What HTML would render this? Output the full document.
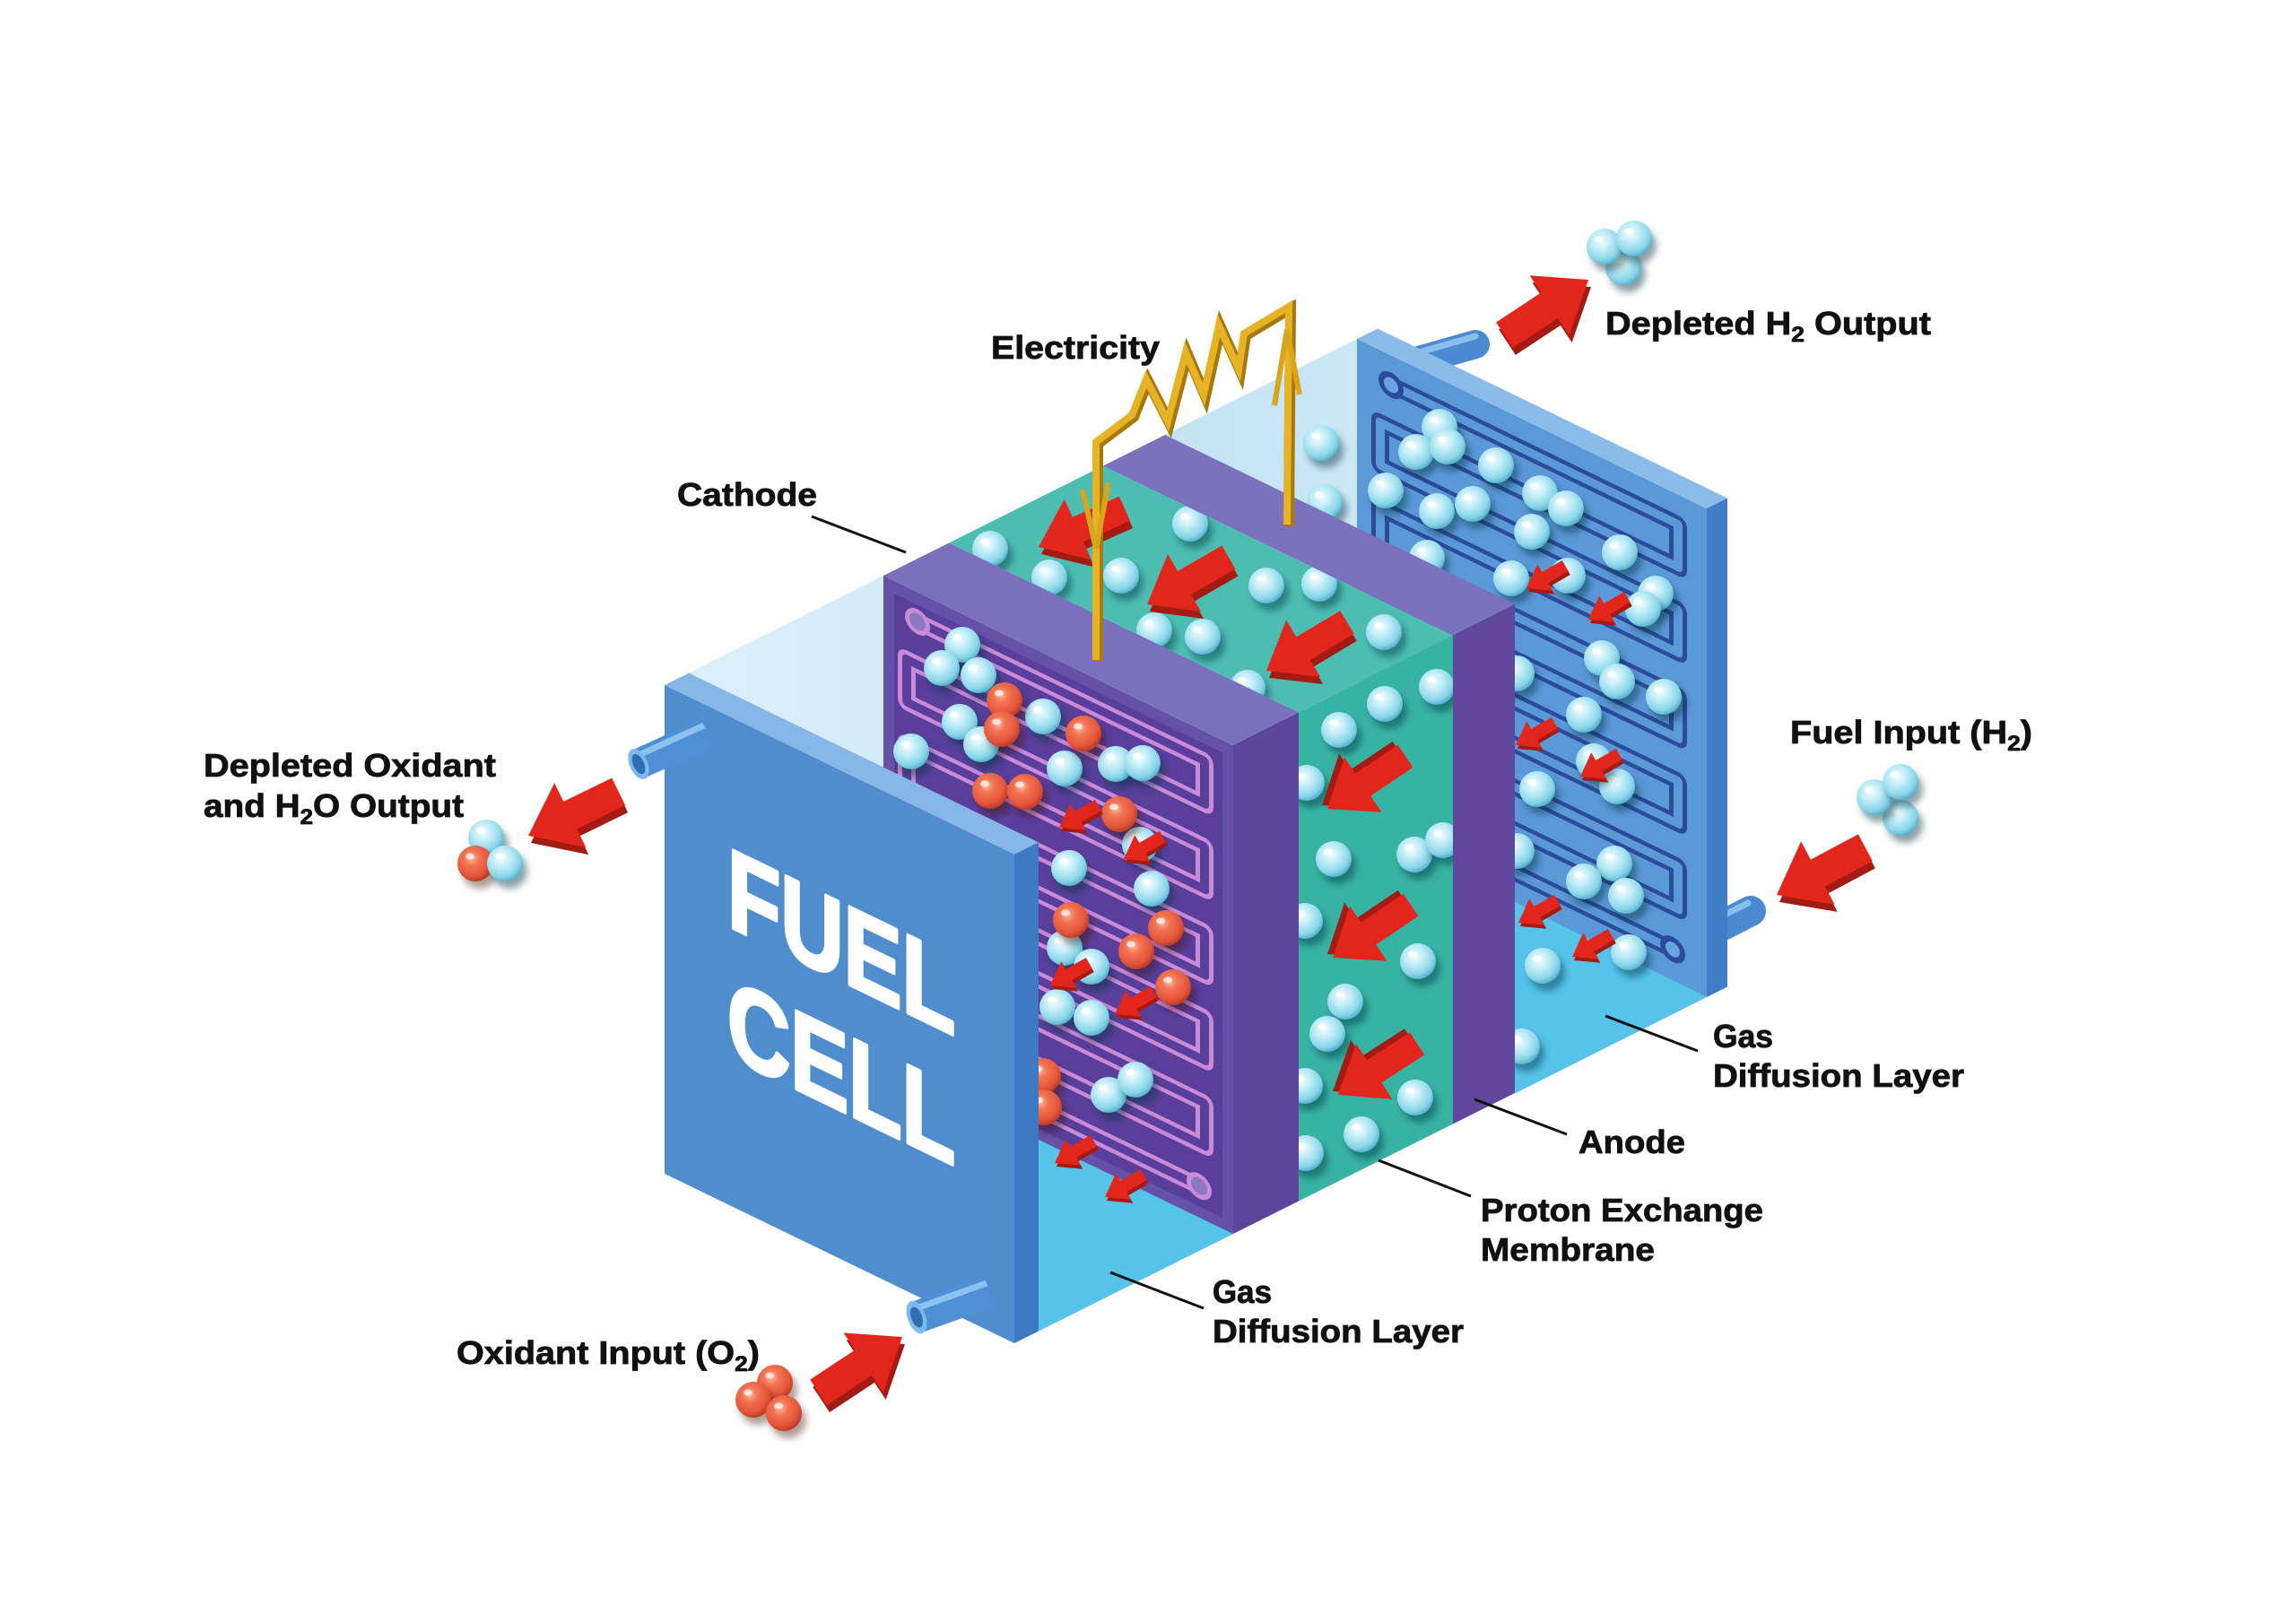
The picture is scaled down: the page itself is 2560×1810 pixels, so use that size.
<!DOCTYPE html>
<html><head><meta charset="utf-8"><style>html,body{margin:0;padding:0;background:#fff}svg{display:block}text{font-family:"Liberation Sans",Arial,sans-serif;font-weight:bold}</style></head>
<body>
<svg xmlns="http://www.w3.org/2000/svg" xmlns:xlink="http://www.w3.org/1999/xlink" width="2560" height="1810" viewBox="0 0 2560 1810">
<defs>
<radialGradient id="gc" cx="0.4" cy="0.35" r="0.7"><stop offset="0" stop-color="#f6feff"/><stop offset="0.35" stop-color="#c4eef8"/><stop offset="0.75" stop-color="#88d5e8"/><stop offset="1" stop-color="#4aa8c6"/></radialGradient>
<radialGradient id="gr" cx="0.4" cy="0.35" r="0.7"><stop offset="0" stop-color="#ffb89c"/><stop offset="0.3" stop-color="#f27453"/><stop offset="0.72" stop-color="#e4553a"/><stop offset="1" stop-color="#b63320"/></radialGradient>
<linearGradient id="gl1" x1="0" y1="0" x2="1" y2="0"><stop offset="0" stop-color="#dcf0fa"/><stop offset="1" stop-color="#c4e4f5"/></linearGradient>
<linearGradient id="gl2" x1="0" y1="0" x2="1" y2="0"><stop offset="0" stop-color="#c3e3f4"/><stop offset="1" stop-color="#dcf0fa"/></linearGradient>
<filter id="sh" x="-60%" y="-60%" width="220%" height="220%"><feGaussianBlur stdDeviation="4"/></filter>
<g id="bc"><circle cx="5" cy="8" r="20" fill="#06323e" opacity="0.45" filter="url(#sh)"/><circle r="20" fill="url(#gc)"/><ellipse cx="-6" cy="-8" rx="5" ry="3.5" fill="#fff" opacity="0.85"/></g>
<g id="br"><circle cx="5" cy="8" r="20" fill="#3a0e06" opacity="0.4" filter="url(#sh)"/><circle r="20" fill="url(#gr)"/><ellipse cx="-6" cy="-8" rx="5" ry="3.5" fill="#fff" opacity="0.7"/></g>
<polygon id="aL" points="0,0 -52,-40 -52,-17 -112,-17 -112,17 -52,17 -52,40"/>
<polygon id="aM" points="0,0 -48,-37 -48,-15 -105,-15 -105,15 -48,15 -48,37"/>
<polygon id="aS" points="0,0 -24,-17 -24,-7 -50,-7 -50,7 -24,7 -24,17"/>
<path id="serp" d="M38,33 H358 V80.7 H26 V128.4 H358 V176.1 H26 V223.8 H358 V271.5 H26 V319.2 H358 V366.9 H26 V414.6 H358 V462.3 H26 V510 H352" fill="none" stroke-linejoin="round"/>
</defs>
<rect width="2560" height="1810" fill="#fff"/>

<!-- pipes behind back plate -->
<line x1="1585" y1="401" x2="1645" y2="384" stroke="#4a8ad0" stroke-width="32" stroke-linecap="round"/>
<line x1="1585" y1="392" x2="1645" y2="375" stroke="#89beee" stroke-width="7" stroke-linecap="round"/>
<line x1="1905" y1="1040" x2="1952" y2="1016" stroke="#4a8ad0" stroke-width="34" stroke-linecap="round"/>
<line x1="1902" y1="1031" x2="1949" y2="1007" stroke="#89beee" stroke-width="7" stroke-linecap="round"/>

<!-- anode-side GDL top -->
<polygon points="1299,485 1513,378 1903,567 1689,674" fill="url(#gl2)"/>

<!-- back plate -->
<polygon points="1513,378 1536,366.5 1926,555.5 1903,567" fill="#8bbbe9"/>
<polygon points="1903,567 1926,555.5 1926,1100.5 1903,1112" fill="#3f7dc7"/>
<g transform="matrix(1,0.485,0,1,1513,378)">
<rect x="0" y="0" width="390" height="545" fill="#5b98d8"/>
<use href="#serp" stroke="#2b4c9b" stroke-width="20"/>
<use href="#serp" stroke="#5b98d8" stroke-width="10"/>
<circle cx="38" cy="33" r="14" fill="#2b4c9b"/><circle cx="38" cy="33" r="8" fill="#6aa3de"/>
<circle cx="352" cy="510" r="14" fill="#2b4c9b"/><circle cx="352" cy="510" r="8" fill="#6aa3de"/>
</g>
<polygon points="1689,1006 1903,1112 1689,1219.5" fill="#55c3ea"/>

<!-- back plate bubbles -->
<g>
<use href="#bc" x="1473" y="494"/><use href="#bc" x="1477" y="560"/><use href="#bc" x="1605" y="476"/><use href="#bc" x="1579" y="504"/><use href="#bc" x="1614" y="498"/><use href="#bc" x="1668" y="519"/><use href="#bc" x="1545" y="547"/><use href="#bc" x="1602" y="570"/><use href="#bc" x="1642" y="562"/><use href="#bc" x="1717" y="550"/><use href="#bc" x="1746" y="567"/><use href="#bc" x="1708" y="593"/><use href="#bc" x="1806" y="616"/><use href="#bc" x="1591" y="622"/><use href="#bc" x="1685" y="645"/><use href="#bc" x="1748" y="642"/><use href="#bc" x="1846" y="662"/><use href="#bc" x="1832" y="679"/><use href="#bc" x="1786" y="734"/><use href="#bc" x="1803" y="760"/><use href="#bc" x="1855" y="777"/><use href="#bc" x="1691" y="751"/><use href="#bc" x="1766" y="797"/><use href="#bc" x="1714" y="880"/><use href="#bc" x="1803" y="877"/><use href="#bc" x="1777" y="849"/><use href="#bc" x="1691" y="949"/><use href="#bc" x="1800" y="963"/><use href="#bc" x="1766" y="983"/><use href="#bc" x="1813" y="999"/><use href="#bc" x="1720" y="1077"/><use href="#bc" x="1816" y="1062"/><use href="#bc" x="1697" y="1167"/>
</g>
<g>
<g transform="translate(1702,656)"><use href="#aS" transform="translate(2,4) rotate(150)" fill="#a31b13"/><use href="#aS" transform="rotate(150)" fill="#e3261b"/></g>
<g transform="translate(1771,691)"><use href="#aS" transform="translate(2,4) rotate(150)" fill="#a31b13"/><use href="#aS" transform="rotate(150)" fill="#e3261b"/></g>
<g transform="translate(1690,831)"><use href="#aS" transform="translate(2,4) rotate(150)" fill="#a31b13"/><use href="#aS" transform="rotate(150)" fill="#e3261b"/></g>
<g transform="translate(1762,866)"><use href="#aS" transform="translate(2,4) rotate(150)" fill="#a31b13"/><use href="#aS" transform="rotate(150)" fill="#e3261b"/></g>
<g transform="translate(1693,1029)"><use href="#aS" transform="translate(2,4) rotate(150)" fill="#a31b13"/><use href="#aS" transform="rotate(150)" fill="#e3261b"/></g>
<g transform="translate(1753,1067)"><use href="#aS" transform="translate(2,4) rotate(150)" fill="#a31b13"/><use href="#aS" transform="rotate(150)" fill="#e3261b"/></g>
</g>

<!-- membrane -->
<polygon points="1058,605.5 1448,794.5 1620,708.5 1230,519.5" fill="#4dbdb2"/>
<polygon points="1448,794.5 1620,708.5 1620,1253.5 1448,1339.5" fill="#37b3a4"/>
<g>
<use href="#bc" x="1104" y="612"/><use href="#bc" x="1170" y="644"/><use href="#bc" x="1250" y="642"/><use href="#bc" x="1327" y="584"/><use href="#bc" x="1412" y="653"/><use href="#bc" x="1471" y="651"/><use href="#bc" x="1287" y="703"/><use href="#bc" x="1341" y="710"/><use href="#bc" x="1543" y="705"/><use href="#bc" x="1391" y="767"/>
<use href="#bc" x="1602" y="766"/><use href="#bc" x="1544" y="785"/><use href="#bc" x="1493" y="814"/><use href="#bc" x="1457" y="873"/><use href="#bc" x="1487" y="958"/><use href="#bc" x="1577" y="953"/><use href="#bc" x="1609" y="937"/><use href="#bc" x="1455" y="1027"/><use href="#bc" x="1581" y="1072"/><use href="#bc" x="1500" y="1117"/><use href="#bc" x="1480" y="1153"/><use href="#bc" x="1455" y="1211"/><use href="#bc" x="1578" y="1224"/><use href="#bc" x="1518" y="1265"/><use href="#bc" x="1456" y="1286"/>
</g>
<g>
<g transform="translate(1158,610)"><use href="#aM" transform="translate(3,8) rotate(156)" fill="#a31b13"/><use href="#aM" transform="rotate(156)" fill="#e3261b"/></g>
<g transform="translate(1279,674)"><use href="#aM" transform="translate(3,8) rotate(150)" fill="#a31b13"/><use href="#aM" transform="rotate(150)" fill="#e3261b"/></g>
<g transform="translate(1412,748)"><use href="#aM" transform="translate(3,8) rotate(149)" fill="#a31b13"/><use href="#aM" transform="rotate(149)" fill="#e3261b"/></g>
<g transform="translate(1480,902)"><use href="#aM" transform="translate(-6,-4) rotate(146)" fill="#a31b13"/><use href="#aM" transform="rotate(146)" fill="#e3261b"/></g>
<g transform="translate(1486,1068)"><use href="#aM" transform="translate(-6,-4) rotate(146)" fill="#a31b13"/><use href="#aM" transform="rotate(146)" fill="#e3261b"/></g>
<g transform="translate(1492,1221)"><use href="#aM" transform="translate(-6,-4) rotate(147)" fill="#a31b13"/><use href="#aM" transform="rotate(147)" fill="#e3261b"/></g>
</g>

<!-- anode -->
<polygon points="1230,519.5 1620,708.5 1689,674 1299,485" fill="#7b71bc"/>
<polygon points="1620,708.5 1689,674 1689,1219 1620,1253.5" fill="#61479e"/>

<!-- cathode-side GDL -->
<polygon points="768,750.5 985,642 1375,831 1158,939.5" fill="url(#gl1)"/>
<polygon points="1158,939.5 1375,831 1375,1376 1158,1484.5" fill="#55c3ea"/>

<!-- cathode -->
<polygon points="985,642 1375,831 1448,794.5 1058,605.5" fill="#7a70bb"/>
<polygon points="1375,831 1448,794.5 1448,1339.5 1375,1376" fill="#5e459c"/>
<g transform="matrix(1,0.485,0,1,985,642)">
<rect x="0" y="0" width="390" height="545" fill="#6651a8"/>
<rect x="12" y="14" width="366" height="519" fill="#593f9b"/>
<use href="#serp" stroke="#c98ad8" stroke-width="20"/>
<use href="#serp" stroke="#593f9b" stroke-width="10"/>
<circle cx="38" cy="33" r="14" fill="#c98ad8"/><circle cx="38" cy="33" r="9" fill="#8a78c0"/>
<circle cx="352" cy="510" r="14" fill="#c98ad8"/><circle cx="352" cy="510" r="9" fill="#8a78c0"/>
</g>
<g>
<use href="#bc" x="1073" y="719"/><use href="#bc" x="1050" y="745"/><use href="#bc" x="1091" y="753"/><use href="#bc" x="1070" y="805"/><use href="#bc" x="1094" y="830"/><use href="#bc" x="1163" y="799"/><use href="#bc" x="1187" y="857"/><use href="#bc" x="1016" y="838"/><use href="#bc" x="1244" y="852"/><use href="#bc" x="1274" y="851"/><use href="#bc" x="1192" y="968"/><use href="#bc" x="1284" y="991"/><use href="#bc" x="1187" y="1057"/><use href="#bc" x="1217" y="1078"/><use href="#bc" x="1179" y="1123"/><use href="#bc" x="1217" y="1135"/><use href="#bc" x="1236" y="1221"/><use href="#bc" x="1266" y="1204"/><use href="#bc" x="1271" y="942"/>
<use href="#br" x="1120" y="781"/><use href="#br" x="1117" y="813"/><use href="#br" x="1208" y="818"/><use href="#br" x="1104" y="882"/><use href="#br" x="1143" y="883"/><use href="#br" x="1248" y="908"/><use href="#br" x="1194" y="1026"/><use href="#br" x="1300" y="1035"/><use href="#br" x="1267" y="1061"/><use href="#br" x="1308" y="1101"/><use href="#br" x="1163" y="1200"/><use href="#br" x="1164" y="1235"/>
</g>
<g>
<g transform="translate(1181,923)"><use href="#aS" transform="translate(2,4) rotate(150)" fill="#a31b13"/><use href="#aS" transform="rotate(150)" fill="#e3261b"/></g>
<g transform="translate(1253,958)"><use href="#aS" transform="translate(2,4) rotate(150)" fill="#a31b13"/><use href="#aS" transform="rotate(150)" fill="#e3261b"/></g>
<g transform="translate(1171,1099)"><use href="#aS" transform="translate(2,4) rotate(150)" fill="#a31b13"/><use href="#aS" transform="rotate(150)" fill="#e3261b"/></g>
<g transform="translate(1243,1131)"><use href="#aS" transform="translate(2,4) rotate(150)" fill="#a31b13"/><use href="#aS" transform="rotate(150)" fill="#e3261b"/></g>
<g transform="translate(1176,1297)"><use href="#aS" transform="translate(2,4) rotate(150)" fill="#a31b13"/><use href="#aS" transform="rotate(150)" fill="#e3261b"/></g>
<g transform="translate(1232,1335)"><use href="#aS" transform="translate(2,4) rotate(150)" fill="#a31b13"/><use href="#aS" transform="rotate(150)" fill="#e3261b"/></g>
</g>

<!-- front plate -->
<polygon points="741,764 768,750.5 1158,939.5 1131,953" fill="#86b7e7"/>
<polygon points="1131,953 1158,939.5 1158,1484.5 1131,1498" fill="#3e7ac3"/>
<polygon points="741,764 1131,953 1131,1498 741,1309" fill="#4f8dce"/>
<g transform="matrix(1,0.485,0,1,0,-393.3)" fill="#fff" stroke="#fff" stroke-width="4" stroke-linejoin="round">
<text x="811" y="1032" font-size="126" textLength="254" lengthAdjust="spacingAndGlyphs">FUEL</text>
<text x="811" y="1177" font-size="126" textLength="254" lengthAdjust="spacingAndGlyphs">CELL</text>
</g>
<!-- front pipes -->
<line x1="789" y1="817" x2="712" y2="852" stroke="#4f90d4" stroke-width="34"/>
<line x1="785" y1="809" x2="708" y2="844" stroke="#8cc2f0" stroke-width="7"/>
<ellipse cx="712" cy="852" rx="10" ry="18" transform="rotate(-24.4 712 852)" fill="#7db8ec"/>
<ellipse cx="712" cy="852" rx="6" ry="12" transform="rotate(-24.4 712 852)" fill="#2f6db5"/>
<line x1="1103" y1="1440" x2="1022" y2="1469" stroke="#4f90d4" stroke-width="36"/>
<line x1="1100" y1="1431" x2="1019" y2="1460" stroke="#8cc2f0" stroke-width="7"/>
<ellipse cx="1022" cy="1469" rx="10" ry="19" transform="rotate(-19.7 1022 1469)" fill="#7db8ec"/>
<ellipse cx="1022" cy="1469" rx="6" ry="12" transform="rotate(-19.7 1022 1469)" fill="#2f6db5"/>

<!-- wire -->
<g fill="none" stroke-linejoin="miter" stroke-linecap="butt">
<polyline points="1222,736 1222,493 1262,463 1278,423 1302,470 1322,393 1342,440 1359,363 1381,412 1387,372 1437,342 1435,585" stroke="#a8780c" stroke-width="12" transform="translate(2,2)"/>
<polyline points="1222,736 1222,493 1262,463 1278,423 1302,470 1322,393 1342,440 1359,363 1381,412 1387,372 1437,342 1435,585" stroke="#e6b326" stroke-width="8"/>
<polyline points="1207,546 1222,612 1236,538" stroke="#d9a51c" stroke-width="6"/>
<polyline points="1421,452 1435,368 1449,440" stroke="#d9a51c" stroke-width="6"/>
</g>

<!-- leader lines -->
<g stroke="#111" stroke-width="3">
<line x1="905" y1="576" x2="1010" y2="616"/>
<line x1="1238" y1="1419" x2="1342" y2="1459"/>
<line x1="1537" y1="1294" x2="1640" y2="1334"/>
<line x1="1644" y1="1226" x2="1747" y2="1265"/>
<line x1="1790" y1="1133" x2="1893" y2="1172"/>
</g>

<!-- labels -->
<g fill="#111" font-size="36" stroke="#111" stroke-width="0.8">
<text x="1105" y="400" textLength="188" lengthAdjust="spacingAndGlyphs">Electricity</text>
<text x="755" y="564" textLength="156" lengthAdjust="spacingAndGlyphs">Cathode</text>
<text x="227" y="866" textLength="326" lengthAdjust="spacingAndGlyphs">Depleted Oxidant</text>
<text x="227" y="911" textLength="290" lengthAdjust="spacingAndGlyphs">and H<tspan font-size="24" dy="8">2</tspan><tspan dy="-8">O Output</tspan></text>
<text x="509" y="1521" textLength="338" lengthAdjust="spacingAndGlyphs">Oxidant Input (O<tspan font-size="24" dy="8">2</tspan><tspan dy="-8">)</tspan></text>
<text x="1352" y="1453" textLength="66" lengthAdjust="spacingAndGlyphs">Gas</text>
<text x="1352" y="1497" textLength="280" lengthAdjust="spacingAndGlyphs">Diffusion Layer</text>
<text x="1651" y="1362" textLength="315" lengthAdjust="spacingAndGlyphs">Proton Exchange</text>
<text x="1651" y="1406" textLength="194" lengthAdjust="spacingAndGlyphs">Membrane</text>
<text x="1760" y="1286" textLength="119" lengthAdjust="spacingAndGlyphs">Anode</text>
<text x="1910" y="1168" textLength="67" lengthAdjust="spacingAndGlyphs">Gas</text>
<text x="1910" y="1212" textLength="280" lengthAdjust="spacingAndGlyphs">Diffusion Layer</text>
<text x="1996" y="829" textLength="270" lengthAdjust="spacingAndGlyphs">Fuel Input (H<tspan font-size="24" dy="8">2</tspan><tspan dy="-8">)</tspan></text>
<text x="1790" y="373" textLength="363" lengthAdjust="spacingAndGlyphs">Depleted H<tspan font-size="24" dy="8">2</tspan><tspan dy="-8"> Output</tspan></text>
</g>

<!-- external arrows -->
<g transform="translate(589,932)"><use href="#aL" transform="translate(3,8) rotate(154)" fill="#a31b13"/><use href="#aL" transform="rotate(154)" fill="#e3261b"/></g>
<g transform="translate(1006,1491)"><use href="#aL" transform="translate(3,8) rotate(-33.5)" fill="#a31b13"/><use href="#aL" transform="rotate(-33.5)" fill="#e3261b"/></g>
<g transform="translate(1771,312)"><use href="#aL" transform="translate(3,8) rotate(-33.4)" fill="#a31b13"/><use href="#aL" transform="rotate(-33.4)" fill="#e3261b"/></g>
<g transform="translate(1981,998)"><use href="#aL" transform="translate(3,8) rotate(152)" fill="#a31b13"/><use href="#aL" transform="rotate(152)" fill="#e3261b"/></g>

<!-- external molecules -->
<use href="#bc" x="1810" y="298"/><use href="#bc" x="1789" y="275"/><use href="#bc" x="1822" y="266"/>
<use href="#bc" x="2119" y="912"/><use href="#bc" x="2090" y="889"/><use href="#bc" x="2119" y="872"/>
<use href="#bc" x="542" y="934"/><use href="#br" x="530" y="963"/><use href="#bc" x="563" y="963"/>
<use href="#br" x="864" y="1542"/><use href="#br" x="840" y="1561"/><use href="#br" x="874" y="1576"/>
</svg>
</body></html>
